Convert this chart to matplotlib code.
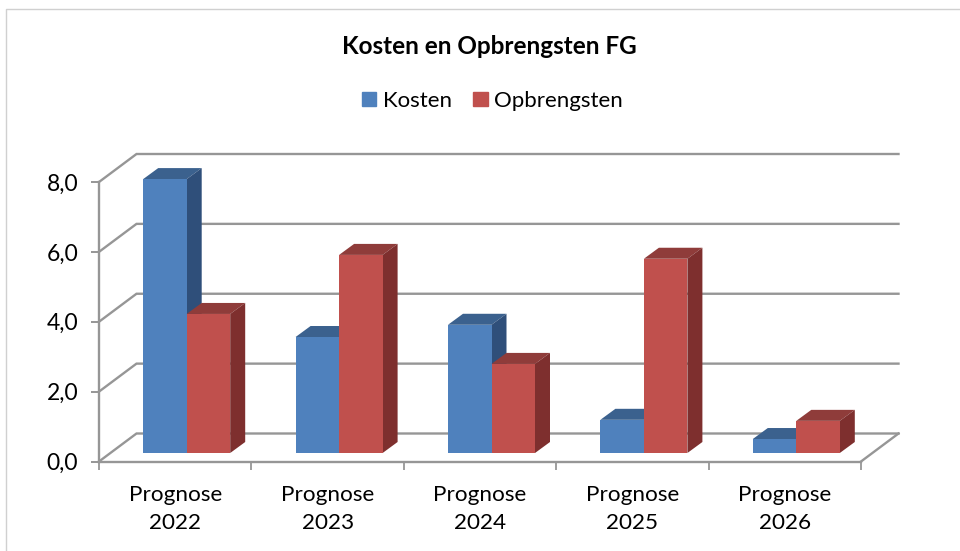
import matplotlib
matplotlib.use("Agg")
import matplotlib.pyplot as plt
from matplotlib.patches import Patch
from matplotlib.lines import Line2D
import numpy as np

plt.rcParams['font.family'] = ['Lato', 'DejaVu Sans']

categories = ["Prognose\n2022", "Prognose\n2023", "Prognose\n2024", "Prognose\n2025", "Prognose\n2026"]
kosten = [7.84, 3.32, 3.67, 0.95, 0.40]
opbrengsten = [3.98, 5.67, 2.55, 5.56, 0.92]
yticks = [0, 2, 4, 6, 8]
yticklabels = ["0,0", "2,0", "4,0", "6,0", "8,0"]

W, H = 960, 551
L, R, B, T = 99, 861, 461.5, 182
GREY = "#969696"

fig = plt.figure(figsize=(W / 100, H / 100), dpi=100, facecolor="white")
ax = fig.add_axes([L / W, 1 - B / H, (R - L) / W, (B - T) / H])
ax.set_xlim(0, 5)
ax.set_ylim(0, 8)
ax.patch.set_visible(False)
for s in ax.spines.values():
    s.set_visible(False)

px = 5 / (R - L)       # x units per pixel
py = 8 / (B - T)       # y units per pixel
wall_dx, wall_dy = 37.5 * px, 28 * py
bar_dx, bar_dy = 15 * px, 11 * py
bar_w = 43.5 * px
shift_x, base = 11.5 * px, 8.5 * py

lw = 1.7
# walls and gridlines
for t in yticks:
    ax.plot([0, wall_dx, 5 + wall_dx], [t, t + wall_dy, t + wall_dy], color=GREY, lw=lw,
            clip_on=False, solid_joinstyle="miter", zorder=1)
ax.plot([5, 5 + wall_dx], [0, wall_dy], color=GREY, lw=lw, clip_on=False, zorder=1)
ax.plot([0, 0], [0, 8], color=GREY, lw=lw, clip_on=False, zorder=1)
ax.plot([0, 5], [0, 0], color=GREY, lw=lw, clip_on=False, zorder=1)


def bar3d(x0, v, front, top, side, z):
    ax.bar(x0, v, width=bar_w, bottom=base, align="edge", color=front, linewidth=0, zorder=z + 0.2, clip_on=False)
    y1 = base + v
    x1 = x0 + bar_w
    ax.fill([x0, x0 + bar_dx, x1 + bar_dx, x1], [y1, y1 + bar_dy, y1 + bar_dy, y1],
            color=top, lw=0, zorder=z, clip_on=False)
    ax.fill([x1, x1 + bar_dx, x1 + bar_dx, x1], [base, base + bar_dy, y1 + bar_dy, y1],
            color=side, lw=0, zorder=z, clip_on=False)


for i in range(len(categories)):
    c = i + 0.5 + shift_x
    bar3d(c - bar_w, kosten[i], "#4F81BD", "#3B618E", "#2F4F7A", 2 + i)
    bar3d(c, opbrengsten[i], "#C0504D", "#8F3C3A", "#7E2F2E", 2.5 + i)

# axes ticks and labels
ax.set_yticks(yticks, yticklabels, fontsize=16.5)
ax.set_xticks(np.arange(6))
ax.set_xticklabels([])
ax.set_xticks(np.arange(5) + 0.5, categories, minor=True, fontsize=16.2)
ax.tick_params(axis="y", length=6, width=1.4, color=GREY, pad=9, labelcolor="black")
ax.tick_params(axis="x", which="major", length=5.5, width=1.3, color=GREY)
ax.tick_params(axis="x", which="minor", length=0, pad=17, labelcolor="black")
for lab in ax.get_xticklabels(minor=True):
    lab.set_linespacing(1.48)

fig.text(489 / W, 1 - 46 / H, "Kosten en Opbrengsten FG", ha="center", va="center",
         fontsize=17.5, fontweight="bold", color="black")

handles = [Patch(color="#4F81BD", label="Kosten"), Patch(color="#C0504D", label="Opbrengsten")]
fig.legend(handles=handles, loc="center", bbox_to_anchor=(492.5 / W, 1 - 101 / H), ncol=2, frameon=False,
           fontsize=16, handlelength=0.65, handleheight=0.62, handletextpad=0.3, columnspacing=0.95,
           borderpad=0)

# chart-area frame (top and left edges visible)
fig.add_artist(Line2D([6 / W, 6 / W, 1], [0, 1 - 9 / H, 1 - 9 / H], color="#D0D0D0", lw=1))

fig.savefig("out.png", dpi=100, facecolor="white")
